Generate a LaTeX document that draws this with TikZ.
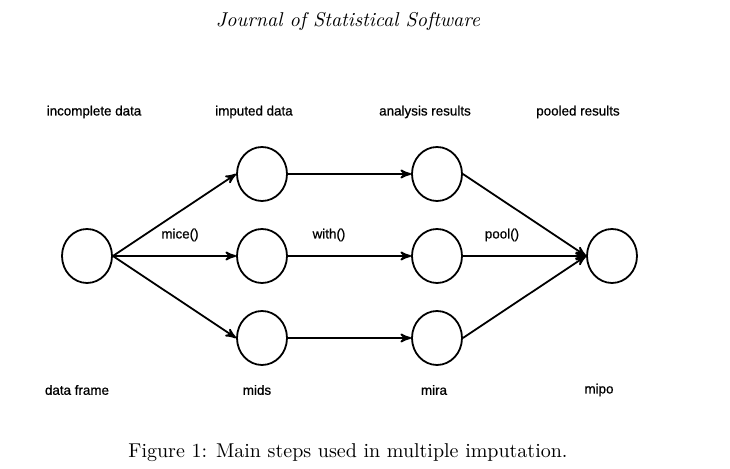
\documentclass[tikz,border=0pt]{standalone}
\usepackage{fontspec}
\newfontfamily\labelfont[FakeBold=0.7]{Liberation Sans}
\usetikzlibrary{arrows}
\usetikzlibrary{shapes.geometric}

\tikzset{
  stage/.style={ellipse, draw, line width=0.9pt, minimum width=25pt, minimum height=27pt, inner sep=0pt},
  flow/.style={line width=0.9pt, ->, >=stealth'},
  lab/.style={font=\labelfont\fontsize{6.7}{8}\selectfont, inner sep=0pt},
}

\begin{document}
\begin{tikzpicture}[x=0.5pt,y=-0.5pt]
\useasboundingbox (0,0) rectangle (730,469);
\node (head) at (348,22) {\itshape Journal of Statistical Software};
% circles
\node (data) [stage] at (87,256) {};
\foreach \y [count=\i] in {174,256,338} {
\node (imp\i) [stage] at (262,\y) {};
\node (res\i) [stage] at (437,\y) {};
}
\node (pool) [stage] at (612,256) {};
% arrows
\foreach \i in {1,2,3} {
\draw[flow] (data.east) -- (imp\i.west);
\draw[flow] (imp\i.east) -- (res\i.west);
\draw[flow] (res\i.east) -- (pool.west);
}
\node (micelab) [lab] at (180,235) {mice()};
\node (withlab) [lab] at (329,235) {with()};
\node (poollab) [lab] at (502,235) {pool()};
% top and bottom labels
\node (top1) [lab] at (94,112) {incomplete data};
\node (top2) [lab] at (254,112) {imputed data};
\node (top3) [lab] at (425,112) {analysis results};
\node (top4) [lab] at (578,112) {pooled results};
\node (bot1) [lab] at (77,390) {data frame};
\node (bot2) [lab] at (257,390) {mids};
\node (bot3) [lab] at (434,390) {mira};
\node (bot4) [lab] at (599,390) {mipo};
\node (caption) at (348,453) {Figure 1: Main steps used in multiple imputation.};
\end{tikzpicture}
\end{document}
